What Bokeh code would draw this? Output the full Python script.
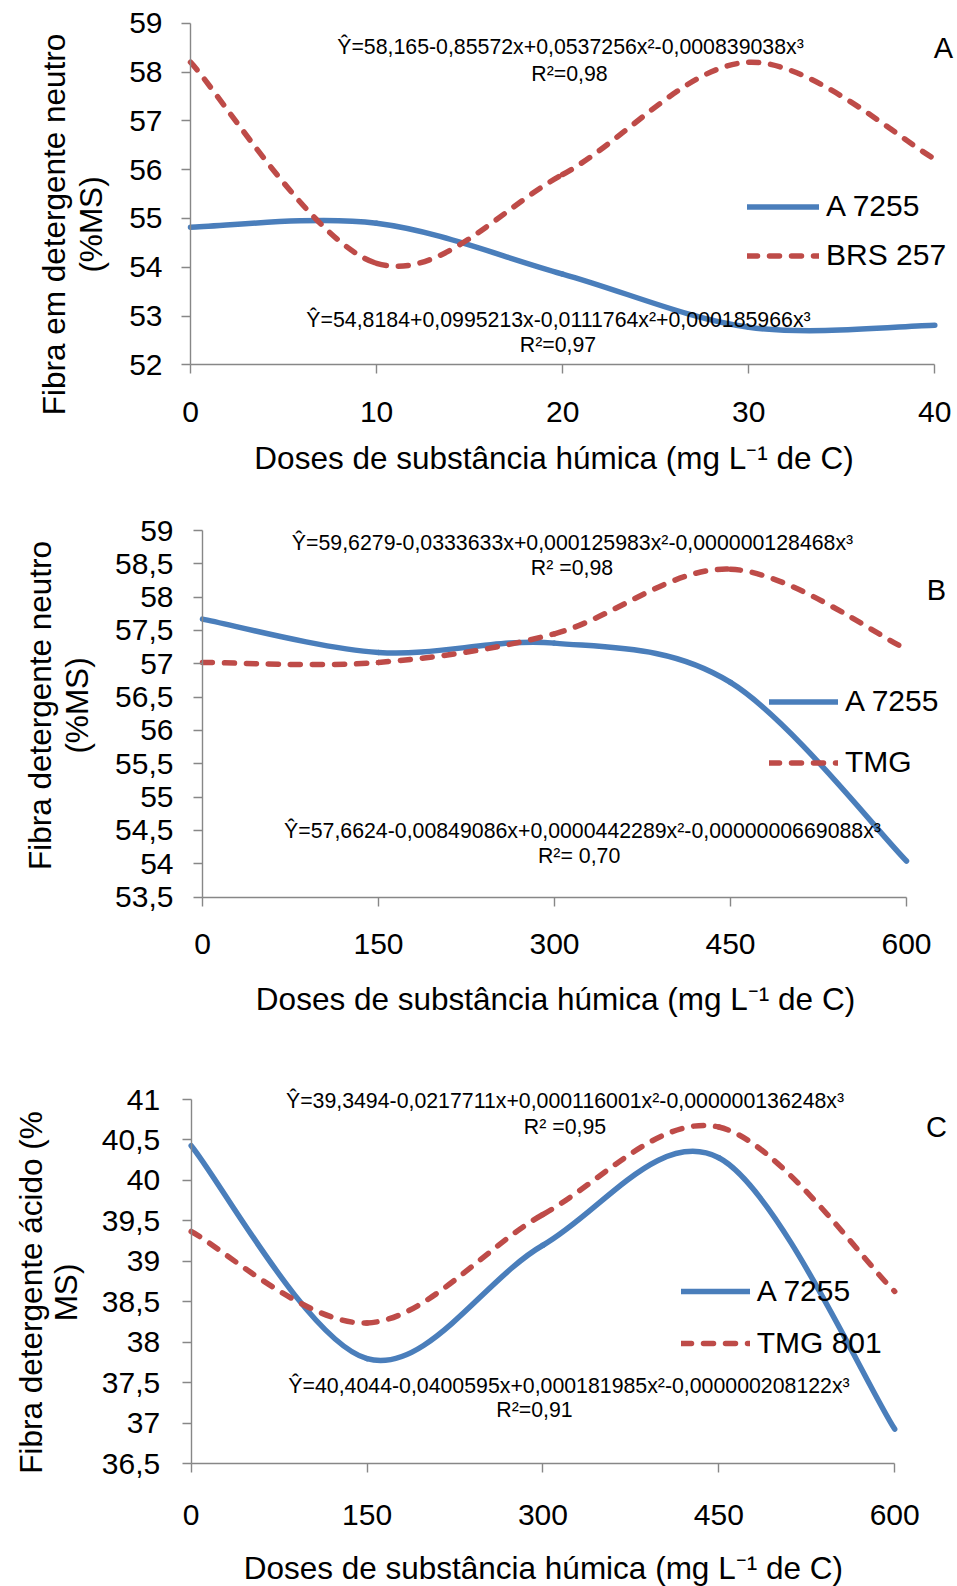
import math
import numpy as np
from bokeh.plotting import figure
from bokeh.models import (Range1d, FixedTicker, CustomJSTickFormatter, Label,
                          Legend, LegendItem, ColumnDataSource, LinearAxis)
from bokeh.layouts import column
from bokeh.embed import file_html
from bokeh.resources import INLINE

# ---------------- data ----------------
# Panel A : doses 0-40 mg L-1 de C, Fibra em detergente neutro (%MS)
dose_a = [0, 10, 20, 30, 40]
fdn_a_a7255 = [54.82, 54.90, 53.86, 52.77, 52.81]
fdn_a_brs257 = [58.20, 54.08, 55.90, 58.20, 56.22]
ticks_x_a = [0, 10, 20, 30, 40]
ticks_y_a = [52, 53, 54, 55, 56, 57, 58, 59]

# Panel B : doses 0-600, Fibra detergente neutro (%MS)
dose_b = [0, 150, 300, 450, 600]
fdn_b_a7255 = [57.67, 57.17, 57.31, 56.72, 54.04]
fdn_b_tmg = [57.02, 57.02, 57.45, 58.42, 57.22]
ticks_x_b = [0, 150, 300, 450, 600]
ticks_y_b = [53.5, 54, 54.5, 55, 55.5, 56, 56.5, 57, 57.5, 58, 58.5, 59]

# Panel C : doses 0-600, Fibra detergente ácido (% MS)
dose_c = [0, 150, 300, 450, 600]
fda_c_a7255 = [40.43, 37.80, 39.20, 40.28, 36.93]
fda_c_tmg801 = [39.37, 38.24, 39.58, 40.66, 38.63]
ticks_x_c = [0, 150, 300, 450, 600]
ticks_y_c = [36.5, 37, 37.5, 38, 38.5, 39, 39.5, 40, 40.5, 41]

x_title = "Doses de substância húmica (mg L⁻¹ de C)"

eq_a_top = "Ŷ=58,165-0,85572x+0,0537256x²-0,000839038x³"
r2_a_top = "R²=0,98"
eq_a_bot = "Ŷ=54,8184+0,0995213x-0,0111764x²+0,000185966x³"
r2_a_bot = "R²=0,97"
eq_b_top = "Ŷ=59,6279-0,0333633x+0,000125983x²-0,000000128468x³"
r2_b_top = "R² =0,98"
eq_b_bot = "Ŷ=57,6624-0,00849086x+0,0000442289x²-0,0000000669088x³"
r2_b_bot = "R²= 0,70"
eq_c_top = "Ŷ=39,3494-0,0217711x+0,000116001x²-0,000000136248x³"
r2_c_top = "R² =0,95"
eq_c_bot = "Ŷ=40,4044-0,0400595x+0,000181985x²-0,000000208122x³"
r2_c_bot = "R²=0,91"

# ---------------- style / layout ----------------
FONT = "Liberation Sans"
BLUE = "#4A7EBB"
RED = "#BE4B48"
AXIS = "#878787"
LW = 5.5
DASH = "10 12"
W = 957
EQ_FS = "21.3px"
TITLE_FS = "31.5px"
LEG_FS = "30px"
LETTER_FS = "29px"


def smooth_source(xs, ys):
    """Excel-like smoothed line: cubic Bezier segments through the data points."""
    xs = np.asarray(xs, float)
    ys = np.asarray(ys, float)
    n = len(xs)
    d = dict(x0=[], y0=[], x1=[], y1=[], cx0=[], cy0=[], cx1=[], cy1=[])
    for i in range(n - 1):
        a = i - 1 if i > 0 else i
        b = i + 2 if i + 2 < n else i + 1
        d["x0"].append(xs[i]); d["y0"].append(ys[i])
        d["x1"].append(xs[i + 1]); d["y1"].append(ys[i + 1])
        d["cx0"].append(xs[i] + (xs[i + 1] - xs[a]) / 6.0)
        d["cy0"].append(ys[i] + (ys[i + 1] - ys[a]) / 6.0)
        d["cx1"].append(xs[i + 1] - (xs[b] - xs[i]) / 6.0)
        d["cy1"].append(ys[i + 1] - (ys[b] - ys[i]) / 6.0)
    return ColumnDataSource(d)


def canvas_range(v0, p0, v1, p1, size, vertical):
    """Range over the whole canvas such that value v0 sits at pixel p0, v1 at p1."""
    s = (p1 - p0) / (v1 - v0)
    a = v0 + (0 - p0) / s
    b = v0 + (size - p0) / s
    return Range1d(b, a) if vertical else Range1d(a, b)


def make_panel(xticks, yticks, H, xpix, ypix, xstand, ystand):
    x0, x1 = xticks[0], xticks[-1]
    y0, y1 = yticks[0], yticks[-1]
    p = figure(width=W, height=H, title=None,
               x_range=canvas_range(x0, xpix[0], x1, xpix[1], W, False),
               y_range=canvas_range(y1, ypix[0], y0, ypix[1], H, True),
               x_axis_location=None, y_axis_location=None,
               output_backend="svg", toolbar_location=None,
               min_border_left=0, min_border_right=0,
               min_border_top=0, min_border_bottom=0)
    p.outline_line_color = None
    p.grid.visible = False
    p.background_fill_color = "white"
    p.border_fill_color = "white"
    fmt = CustomJSTickFormatter(code="return String(tick).replace('.', ',');")
    xa = LinearAxis(fixed_location=y0, bounds=(x0, x1))
    ya = LinearAxis(fixed_location=x0, bounds=(y0, y1))
    for ax, ticks, fs, st in ((xa, xticks, "30px", xstand),
                              (ya, yticks, "30px", ystand)):
        ax.ticker = FixedTicker(ticks=ticks)
        ax.formatter = fmt
        ax.axis_line_color = AXIS
        ax.axis_line_width = 1.4
        ax.major_tick_line_color = AXIS
        ax.major_tick_line_width = 1.4
        ax.major_tick_out = 9
        ax.major_tick_in = 0
        ax.minor_tick_line_color = None
        ax.major_label_text_font = FONT
        ax.major_label_text_font_size = fs
        ax.major_label_text_color = "black"
        ax.major_label_standoff = int(round(st))
    p.add_layout(xa, "below")
    p.add_layout(ya, "left")
    return p


def add_series(p, xs, ys, color, dashed):
    src = smooth_source(xs, ys)
    kw = dict(line_color=color, line_width=LW, line_cap="round")
    if dashed:
        kw["line_dash"] = DASH
    return p.bezier(x0="x0", y0="y0", x1="x1", y1="y1", cx0="cx0", cy0="cy0",
                    cx1="cx1", cy1="cy1", source=src, **kw)


def add_text(p, H, x, y_top, text, size, angle=0.0):
    # x, y_top: canvas pixel position of the text centre (y measured from the top)
    p.add_layout(Label(x=x, y=H - y_top, x_units="screen", y_units="screen",
                       text=text, text_font=FONT, text_font_size=size,
                       text_color="black", text_align="center",
                       text_baseline="middle", angle=angle))


def add_legend(p, items, loc, gw, gh):
    lg = Legend(items=[LegendItem(label=l, renderers=[r]) for l, r in items],
                location=loc, orientation="vertical",
                glyph_width=int(round(gw)), glyph_height=int(round(gh)),
                label_height=int(round(gh)),
                label_standoff=7, spacing=0, padding=0, margin=0,
                label_text_font=FONT, label_text_font_size=LEG_FS,
                label_text_color="black",
                border_line_alpha=0, background_fill_alpha=0)
    p.add_layout(lg)


# ---------------- Panel A ----------------
HA = 488
pa = make_panel(ticks_x_a, ticks_y_a, HA, (190, 934.3), (22.7, 364.3), 28, 19)
ra1 = add_series(pa, dose_a, fdn_a_a7255, BLUE, False)
ra2 = add_series(pa, dose_a, fdn_a_brs257, RED, True)
add_legend(pa, [("A 7255", ra1), ("BRS 257", ra2)], (747, 208.5), 72, 49)
add_text(pa, HA, 570, 46.7, eq_a_top, EQ_FS)
add_text(pa, HA, 569, 73, r2_a_top, EQ_FS)
add_text(pa, HA, 558, 319.7, eq_a_bot, EQ_FS)
add_text(pa, HA, 557.5, 344, r2_a_bot, EQ_FS)
add_text(pa, HA, 943, 47.5, "A", LETTER_FS)
add_text(pa, HA, 553.5, 457, x_title, TITLE_FS)
add_text(pa, HA, 53, 224, "Fibra em detergente neutro", TITLE_FS, math.pi / 2)
add_text(pa, HA, 90, 224, "(%MS)", TITLE_FS, math.pi / 2)

# ---------------- Panel B ----------------
HB = 552
pb = make_panel(ticks_x_b, ticks_y_b, HB, (202, 906), (42, 408.5), 28, 20)
rb1 = add_series(pb, dose_b, fdn_b_a7255, BLUE, False)
rb2 = add_series(pb, dose_b, fdn_b_tmg, RED, True)
add_legend(pb, [("A 7255", rb1), ("TMG", rb2)], (769, 247.5), 69, 61)
add_text(pb, HB, 572, 54, eq_b_top, EQ_FS)
add_text(pb, HB, 571.5, 79.5, r2_b_top, EQ_FS)
add_text(pb, HB, 582, 342.5, eq_b_bot, EQ_FS)
add_text(pb, HB, 578.6, 367, r2_b_bot, EQ_FS)
add_text(pb, HB, 936, 101, "B", LETTER_FS)
add_text(pb, HB, 555, 510, x_title, TITLE_FS)
add_text(pb, HB, 39, 217, "Fibra detergente neutro", TITLE_FS, math.pi / 2)
add_text(pb, HB, 76, 217, "(%MS)", TITLE_FS, math.pi / 2)

# ---------------- Panel C ----------------
HC = 546
pc = make_panel(ticks_x_c, ticks_y_c, HC, (190.7, 894.2), (59, 423.4), 32, 22)
rc1 = add_series(pc, dose_c, fda_c_a7255, BLUE, False)
rc2 = add_series(pc, dose_c, fda_c_tmg801, RED, True)
add_legend(pc, [("A 7255", rc1), ("TMG 801", rc2)], (680.7, 216.9), 69, 52)
add_text(pc, HC, 564.5, 60.6, eq_c_top, EQ_FS)
add_text(pc, HC, 564.5, 86, r2_c_top, EQ_FS)
add_text(pc, HC, 568.5, 345, eq_c_bot, EQ_FS)
add_text(pc, HC, 534, 369, r2_c_bot, EQ_FS)
add_text(pc, HC, 936, 86, "C", LETTER_FS)
add_text(pc, HC, 542.8, 527.5, x_title, TITLE_FS)
add_text(pc, HC, 30, 252, "Fibra detergente ácido (%", TITLE_FS, math.pi / 2)
add_text(pc, HC, 65, 252, "MS)", TITLE_FS, math.pi / 2)

layout = column(pa, pb, pc, spacing=0)
open("out.html", "w").write(file_html(layout, INLINE))
